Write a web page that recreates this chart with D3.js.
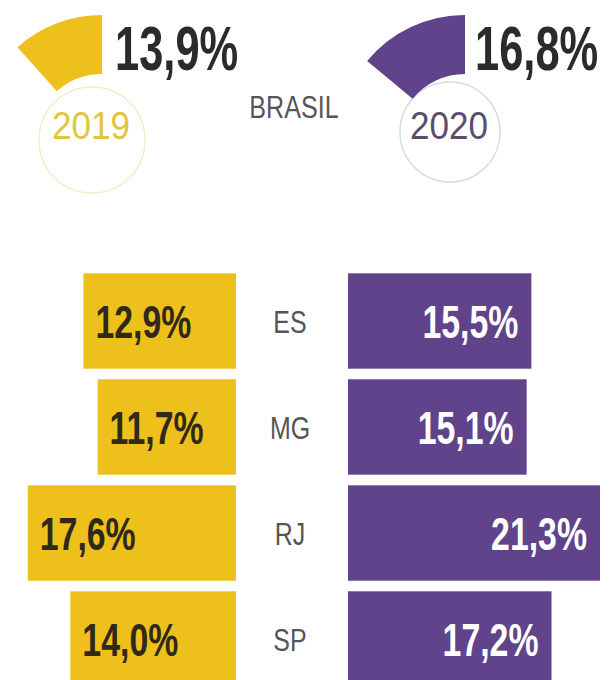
<!DOCTYPE html>
<html>
<head>
<meta charset="utf-8">
<script src="https://cdn.jsdelivr.net/npm/d3@7"></script>
<style>
  body { margin: 0; background: #fff; }
  text { font-family: "Liberation Sans", Arial, sans-serif; }
</style>
</head>
<body>
<script>
var width = 609;
var height = 680;

// unemployment rate, Brasil and states
var years = ['2019', '2020'];
var brasil = [13.9, 16.8];
var states = ['ES', 'MG', 'RJ', 'SP'];
var values2019 = [12.9, 11.7, 17.6, 14.0];
var values2020 = [15.5, 15.1, 21.3, 17.2];

var yellow = '#eec01b';
var purple = '#60438a';

var fmt = function(v) {
  return d3.format('.1f')(v).replace('.', ',') + '%';
};

// no condensed font available, so squeeze horizontally
var squeeze = function(x, y, s) {
  return 'translate(' + x + ',' + y + ') scale(' + s + ',1)';
};

var svg = d3.select('body').append('svg')
  .attr('width', width)
  .attr('height', height);

// --- top: Brasil gauges ---
var angle = d3.scaleLinear().domain([0, 120]).range([0, 2 * Math.PI]);
var arc = d3.arc().innerRadius(68).outerRadius(127);

var gauges = [
  {year: years[0], value: brasil[0], color: yellow, cx: 102, ccx: 92, ccy: 140, r: 53,
   ring: '#f4edc8', yearColor: '#e3c53c', numX: 115},
  {year: years[1], value: brasil[1], color: purple, cx: 465, ccx: 450, ccy: 132, r: 50,
   ring: '#dcdcdc', yearColor: '#5b4d6b', numX: 475}
];

var g = svg.selectAll('.gauge')
  .data(gauges)
  .enter().append('g')
  .attr('class', 'gauge');

g.append('circle')
  .attr('cx', function(d) { return d.ccx; })
  .attr('cy', function(d) { return d.ccy; })
  .attr('r', function(d) { return d.r; })
  .attr('fill', '#fff')
  .attr('stroke', function(d) { return d.ring; })
  .attr('stroke-width', 1.5);

g.append('path')
  .attr('transform', function(d) { return 'translate(' + d.cx + ',142)'; })
  .attr('fill', function(d) { return d.color; })
  .attr('d', function(d) {
    return arc({startAngle: -angle(d.value), endAngle: 0});
  });

g.append('text')
  .attr('transform', function(d) { return squeeze(d.ccx - 1, 139, 0.9); })
  .attr('text-anchor', 'middle')
  .attr('font-size', 39)
  .attr('fill', function(d) { return d.yearColor; })
  .text(function(d) { return d.year; });

g.append('text')
  .attr('transform', function(d) { return squeeze(d.numX, 70, 0.69); })
  .attr('font-size', 63)
  .attr('font-weight', 'bold')
  .attr('fill', '#2b2b2b')
  .text(function(d) { return fmt(d.value); });

svg.append('text')
  .attr('transform', squeeze(294, 118, 0.81))
  .attr('text-anchor', 'middle')
  .attr('font-size', 31)
  .attr('fill', '#555')
  .text('BRASIL');

// --- bottom: states ---
var y = d3.scaleBand()
  .domain(states)
  .range([268, 268 + 4 * 106])
  .paddingInner(0.1)
  .paddingOuter(0.05);

var x = d3.scaleLinear().domain([0, 21.3]).range([0, 252]);
var leftEdge = 236;
var rightEdge = 348;

var rows = states.map(function(s, i) {
  return {state: s, v19: values2019[i], v20: values2020[i]};
});

var row = svg.selectAll('.row')
  .data(rows)
  .enter().append('g')
  .attr('class', 'row')
  .attr('transform', function(d) { return 'translate(0,' + y(d.state) + ')'; });

var bh = y.bandwidth();

row.append('rect')
  .attr('x', function(d) { return leftEdge - x(d.v19); })
  .attr('width', function(d) { return x(d.v19); })
  .attr('height', bh)
  .attr('fill', yellow);

row.append('rect')
  .attr('x', rightEdge)
  .attr('width', function(d) { return x(d.v20); })
  .attr('height', bh)
  .attr('fill', purple);

row.append('text')
  .attr('transform', function(d) {
    return squeeze(leftEdge - x(d.v19) + 12, bh / 2 + 16.5, 0.72);
  })
  .attr('font-size', 47)
  .attr('font-weight', 'bold')
  .attr('fill', '#30291a')
  .text(function(d) { return fmt(d.v19); });

row.append('text')
  .attr('transform', function(d) {
    return squeeze(rightEdge + x(d.v20) - 13, bh / 2 + 16.5, 0.72);
  })
  .attr('text-anchor', 'end')
  .attr('font-size', 47)
  .attr('font-weight', 'bold')
  .attr('fill', '#fff')
  .text(function(d) { return fmt(d.v20); });

row.append('text')
  .attr('transform', squeeze(290, bh / 2 + 11.5, 0.78))
  .attr('text-anchor', 'middle')
  .attr('font-size', 32)
  .attr('fill', '#555')
  .text(function(d) { return d.state; });
</script>
</body>
</html>
